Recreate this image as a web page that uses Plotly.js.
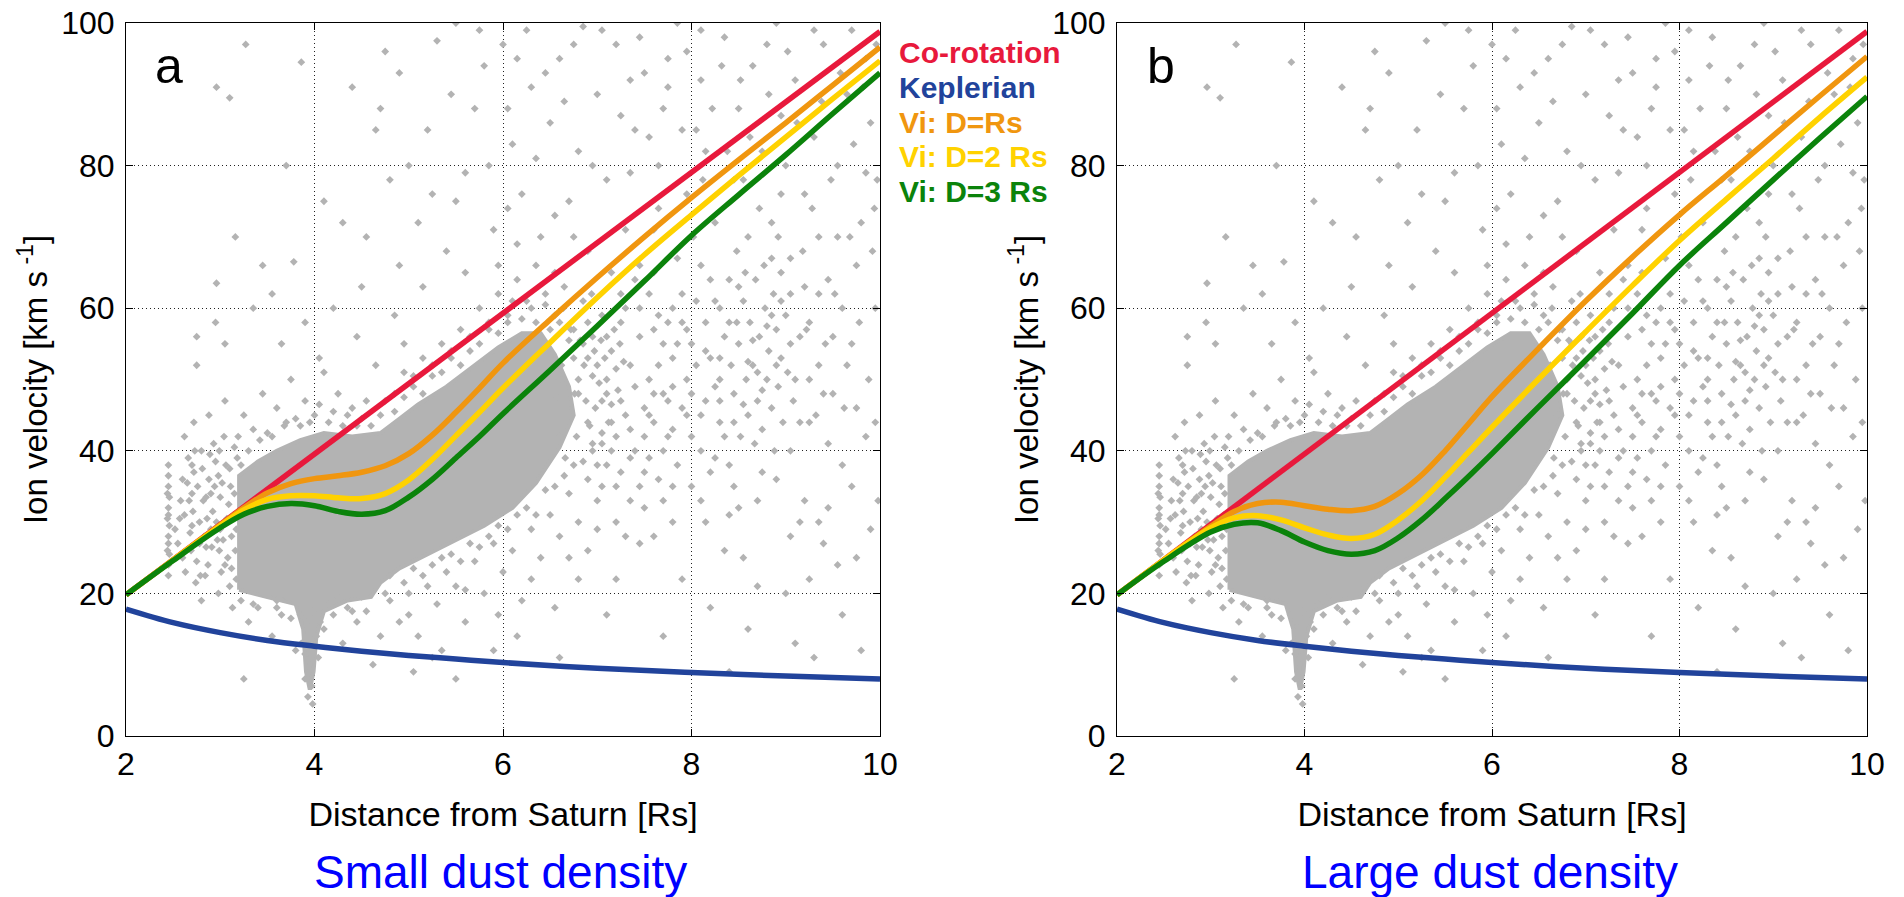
<!DOCTYPE html>
<html>
<head>
<meta charset="utf-8">
<script src="https://cdn.plot.ly/plotly-3.0.1.min.js"></script>
<style>html,body{margin:0;padding:0;background:#fff;}#chart{width:1904px;height:897px;}</style>
</head>
<body>
<div id="chart"></div>
<script>
// ---------- model curves ----------
const xModel = [2, 2.5, 3, 3.25, 3.5, 3.75, 4, 4.25, 4.5, 4.75, 5, 5.25, 5.5, 5.75, 6, 6.5, 7, 7.5, 8, 8.5, 9, 9.5, 10];

const xCorotation = [2, 10];
const vCorotation = [19.8, 98.8];

const xKeplerian = [2, 2.5, 3, 3.5, 4, 4.5, 5, 5.5, 6, 7, 8, 9, 10];
const vKeplerian = [17.8, 15.9, 14.5, 13.4, 12.6, 11.9, 11.3, 10.8, 10.3, 9.5, 8.9, 8.4, 8.0];

// panel a : small dust density
const vD1_small = [19.8, 24.7, 29.6, 32.0, 34.1, 35.4, 36.1, 36.5, 37.0, 37.9, 39.6, 42.2, 45.4, 48.8, 52.3, 58.4, 64.3, 70.0, 75.5, 80.8, 86.0, 91.3, 96.6];
const vD2_small = [19.8, 24.7, 29.5, 31.7, 33.2, 33.7, 33.7, 33.4, 33.3, 34.0, 35.9, 38.8, 42.1, 45.4, 48.8, 55.2, 61.5, 67.5, 73.1, 78.6, 84.0, 89.4, 94.7];
const vD3_small = [19.8, 24.6, 29.2, 31.1, 32.2, 32.6, 32.3, 31.5, 31.1, 31.6, 33.5, 36.0, 39.0, 42.0, 45.2, 51.3, 57.5, 63.8, 70.2, 75.9, 81.5, 87.3, 93.0];

// panel b : large dust density
const vD1_large = [19.8, 24.7, 29.4, 31.5, 32.6, 32.8, 32.3, 31.8, 31.6, 32.2, 34.0, 36.6, 40.0, 43.8, 47.6, 54.4, 61.0, 67.2, 73.1, 78.6, 84.2, 89.8, 95.3];
const vD2_large = [19.8, 24.7, 29.2, 30.6, 30.9, 30.3, 29.2, 28.2, 27.7, 28.3, 30.3, 33.0, 36.3, 39.8, 43.3, 50.1, 56.7, 63.2, 69.5, 75.3, 81.0, 86.8, 92.4];
const vD3_large = [19.8, 24.5, 28.6, 29.7, 29.9, 28.8, 27.2, 26.0, 25.5, 26.0, 27.8, 30.3, 33.3, 36.4, 39.6, 46.2, 52.7, 59.3, 66.0, 72.0, 78.0, 83.9, 89.7];

// ---------- observed ion velocities (estimated from the picture; same data in both panels) ----------
// outline of the solid, saturated part of the cloud
const obsCoreOutline = [[3.2,20.5],[3.2,36.5],[3.4,38.5],[3.6,40],[3.85,41.5],[4.1,42.5],[4.4,42],[4.7,42.5],[4.9,44.5],[5.1,46.5],[5.4,49],[5.7,52],[5.95,54.5],[6.2,56.5],[6.4,56.5],[6.55,53.5],[6.7,49],[6.75,45],[6.6,40.5],[6.35,35.5],[6.1,32],[5.8,29.5],[5.5,27.5],[5.2,25.5],[4.9,23.5],[4.7,21.5],[4.6,19.5],[4.35,19],[4.1,17.5],[4.02,14],[3.99,9],[3.95,6.5],[3.91,9],[3.88,15],[3.8,18.5],[3.5,19.5],[3.2,20.5]];

const obsColumn = [[2.45,22.5],[2.45,24],[2.46,25.5],[2.44,26],[2.45,27],[2.45,28],[2.46,29.5],[2.44,30.5],[2.45,31],[2.45,32],[2.46,33.5],[2.44,34],[2.45,35],[2.45,36.5],[2.45,38]];

const obsInner = [[2.55,27],[2.6,25],[2.62,31],[2.68,28.5],[2.7,34],[2.72,37],[2.75,24.5],[2.78,30],[2.8,40],[2.82,33],[2.85,26.5],[2.88,36],[2.9,29],[2.92,31.5],[2.95,38.5],[2.97,27.5],[3.0,33.5],[3.02,35.5],[3.05,24],[3.07,30.5],[3.1,37.5],[3.12,28],[3.15,34],[3.17,22],[3.18,39],[2.65,35.5],[2.74,21.5],[2.84,22.5],[2.93,41],[3.04,42],[2.58,33],[2.66,39],[2.98,20],[3.13,18],[2.52,29],[2.86,30.5],[2.99,26],[3.09,32.5],[3.16,26],[2.78,27],[2.7,29.5],[2.9,34],[3.0,29],
  [2.57,30.5],[2.6,36],[2.63,23],[2.67,33],[2.69,26],[2.71,31.5],[2.73,40],[2.76,35],[2.79,22.5],[2.81,37.5],[2.83,28],[2.87,24],[2.89,39.5],[2.91,26.5],[2.94,35],[2.96,30],[2.99,40],[3.01,23],[3.03,27.5],[3.06,38],[3.08,25],[3.11,35],[3.14,31],[3.17,29],[3.19,42],[2.72,44],[2.88,45],[3.05,47],[2.62,42],[2.8,19],[3.1,21],[2.7,38],[2.98,36.5],[3.15,40.5],[2.85,33.5],[3.12,23.5]];

const obsCoreEdge = [[3.25,45],[3.35,43],[3.45,48],[3.5,42.5],[3.6,46],[3.7,44],[3.75,50],[3.85,43.5],[3.9,47],[4.0,45],[4.1,51],[4.15,44],[4.25,48],[4.35,45],[4.45,43.5],[4.55,47],[4.65,52],[4.7,45],[3.3,16],[3.4,18],[3.55,14],[3.65,17],[3.75,16.5],[3.8,12],[3.9,8],[3.93,5.5],[3.97,7],[3.96,11],[4.02,14],[4.1,15],[4.2,17],[4.3,13],[4.45,16],[4.55,17.5],[4.62,10],[3.25,8],[3.6,19],[4.35,18],[3.98,4.5],[3.94,9],
  [3.22,38],[3.3,40],[3.42,41.5],[3.55,42],[3.68,43.5],[3.8,44.5],[3.95,44],[4.05,46.5],[4.2,45.5],[4.3,43.5],[4.4,46],[4.5,44.5],[4.6,43.5],[4.75,47],[4.85,45.5],[4.95,47.5],[5.05,50.5],[5.15,48],[5.25,52],[5.35,51],[5.45,54],[5.55,52],[5.65,56],[5.75,55],[5.85,58],[5.95,56.5],[6.05,58],[6.1,61],[6.2,58.5],[6.3,60],[6.35,58],[6.45,60.5],[6.5,57],[6.6,58],[6.7,55.5],[6.75,53],[6.85,55],[6.95,50.5],[7.05,47],[7.1,50],[7.15,46.5],[7.2,51.5],
  [3.22,19],[3.35,18.5],[3.45,20],[3.6,18],[3.7,19.5],[3.85,17],[4.15,18.5],[4.25,19.5],[4.4,17.5],[4.5,19.5],[4.65,21],[4.75,20],[4.8,22.5],[4.95,21.5],[5.05,23.5],[5.15,22.5],[5.25,24],[5.35,25],[5.45,25.5],[5.55,24.5],[5.65,27],[5.75,26.5],[5.85,28],[5.95,29.5],[6.05,29],[6.15,31],[6.25,32],[6.35,31],[6.45,34.5],[6.55,35],[6.65,36.5],[6.75,38],[6.85,38.5],[6.95,41],[7.05,42.5],[7.15,40],[3.92,16],[3.98,17.5],[4.06,16],[3.86,13],[4.04,11],[3.9,11.5],
  [6.62,52],[6.68,46],[6.72,57],[6.78,42],[6.8,50],[6.82,55.5],[6.88,47],[6.9,58],[6.92,43.5],[6.97,54],[7.02,49.5],[7.08,53],[7.12,44],[7.18,57],[7.22,48.5],[7.28,52.5],[6.58,47.5],[6.66,39],[6.76,48],[6.86,52],[6.98,46],[7.04,55.5],[6.64,60],[6.94,62],[7.24,55]];

const obsHighInner = [[3.05,55],[2.95,58],[2.75,52],[2.75,56],[3.27,97],[2.96,91],[3.1,89.5],[3.86,94.5],[3.16,70],[2.96,63.5],[3.45,66],[3.78,66.5],[3.35,60],[3.55,62],[3.65,55],[3.9,58],[4.05,53],[4.2,60],[4.3,72],[4.45,56],[4.5,63],[4.65,85],[4.8,78],[4.85,59],[4.9,66],[4.95,55],[4.4,91],[4.75,96],[3.7,80],[4.1,75]];

const obsMidBand = [[4.8,19],[4.9,16],[5.0,20],[5.1,14],[5.2,21],[5.3,18.5],[5.4,23],[5.5,21],[5.6,16],[5.7,24.5],[5.8,20],[5.9,27],[6.0,23],[6.1,26],[6.2,19],[6.3,29],[6.4,25],[6.5,31],[6.6,28],[6.7,34],[6.8,30],[6.9,36],[7.0,33],[7.1,38],[7.2,35],[7.3,28],[7.4,40],[7.5,37],[5.35,12],[6.15,14],[6.8,22],[5.05,9],
  [4.7,14],[5.0,17],[5.25,11],[5.6,20.5],[5.95,17],[6.3,22],[6.55,18],[6.9,26],[7.2,22],[7.45,27],[7.0,29],[6.7,25],
  [4.85,48],[4.95,51],[5.05,49],[5.15,53],[5.25,50.5],[5.35,55],[5.45,53],[5.55,57],[5.65,54],[5.75,60],[5.85,57],[5.95,62],[6.05,59],[6.15,64],[6.25,61],[6.35,66],[6.45,62],[6.55,59],[6.65,63],[6.75,57],[6.85,61],[6.95,56],[7.05,59],[7.15,54],[7.25,58],[7.35,52],[7.45,56],[7.55,50],[7.6,44],[7.7,48],[7.8,53],[7.9,46],[7.1,48],[7.3,45],[7.0,52],[6.6,50],[6.9,44],[7.2,42],[7.5,46],[7.4,49],
  [7.55,45],[7.65,52],[7.75,47],[7.85,55],[7.95,50],[8.05,61],[8.1,45],[8.2,53],[8.3,44],[8.35,56],[7.6,57],[7.8,43],[8.0,48],[8.15,58],[8.25,49],[7.05,41],[7.25,47],[7.35,39],[6.95,40],[7.15,44],
  [7.25,37],[7.35,43],[7.45,35],[7.5,42],[7.55,39],[7.6,48],[7.65,36],[7.7,55],[7.75,42],[7.8,49],[7.85,38],[7.9,62],[7.95,45],[8.0,35],[8.05,52],[8.1,40],[8.15,54],[8.2,37],[8.25,61],[8.3,47],[8.35,42],[8.4,58],[8.45,35],[8.5,63],[7.3,60],[7.4,64],[7.6,65],[7.8,60],[8.1,66],[8.4,64],[7.1,56],[7.25,62],[7.45,60],[7.65,59],[7.95,57],[8.3,53],[8.45,44],[7.05,35],[7.2,30],[7.5,32],[7.8,30],[8.1,33],[8.4,31],[6.7,45],[6.8,48],[6.6,42],[6.9,53],[7.0,38],[7.35,33],[7.7,33]];

const obsHighMid = [[5.1,72],[5.3,97.5],[5.5,100],[5.8,94],[5.2,85],[5.4,68],[5.6,79],[5.7,88],[5.9,71],[6.0,97],[6.1,83],[6.2,76],[6.3,91],[6.4,70],[6.5,86],[6.6,95],[6.7,75],[6.8,82],[6.9,68],[7.0,90],[7.1,78],[7.2,97],[7.3,71],[7.4,85],[7.5,93],[6.25,99],[6.85,99.5],[5.95,66],[6.55,73],[7.15,65],[7.45,66],[6.05,88],[5.5,75],
  [4.55,70],[4.7,88],[4.9,93],[5.0,80],[5.15,63],[5.25,76],[5.45,90],[5.6,65],[5.75,99],[5.85,80],[6.05,74],[6.15,95],[6.35,81],[6.45,93],[6.55,65],[6.65,89],[6.75,97],[6.95,80],[7.05,99],[7.25,87],[7.35,79],[7.45,98],[7.55,84],[7.65,74],[7.75,91],[7.9,85],[7.95,96],[6.15,69],[6.75,70],[7.35,92]];

const obsOuterCluster = [[8.45,48],[8.5,55],[8.52,42],[8.55,61],[8.58,50],[8.6,45],[8.62,58],[8.65,52],[8.68,64],[8.7,47],[8.72,56],[8.75,43],[8.78,60],[8.8,50],[8.82,54],[8.85,46],[8.87,62],[8.9,57],[8.92,49],[8.95,53],[8.97,44],[9.0,59],[9.02,51],[9.05,55],[9.08,47],[8.48,58],[8.57,65],[8.67,41],[8.77,66],[8.88,40],[8.6,52.5],[8.7,51],[8.8,57.5],[8.9,52],[8.55,46.5],[8.75,48.5],[8.95,61],[8.65,55.5],[8.85,59],[8.42,52]];

const obsOuter = [[7.55,62],[7.6,71],[7.65,80],[7.7,88],[7.75,95],[7.8,35],[7.85,67],[7.9,58],[7.95,76],[8.0,42],[8.05,85],[8.1,92],[8.15,30],[8.2,64],[8.25,72],[8.3,50],[8.35,98],[8.4,38],[8.45,78],[8.5,88],[8.55,25],[8.6,70],[8.65,94],[8.7,33],[8.75,82],[8.8,97],[8.85,72],[8.9,36],[8.95,87],[9.0,20],[9.05,67],[9.1,92],[9.15,44],[9.2,76],[9.25,58],[9.3,84],[9.35,30],[9.4,97],[9.45,64],[9.5,48],[9.55,80],[9.6,38],[9.65,90],[9.7,55],[9.75,25],[9.8,72],[9.85,42],[9.9,86],[9.95,60],[9.98,33],[7.6,28],[7.9,22],[8.2,18],[8.6,15],[9.1,13],[9.6,17],[9.8,12],[9.97,78],[9.92,68],[9.7,99],[9.3,99],[8.9,100],[8.1,99],[7.85,100],[9.45,41],[9.55,70],[9.65,52],[9.2,33],[9.4,27],[9.0,80],[8.3,60],[8.0,55],[7.7,40],[7.75,58],[8.15,47],[8.25,39],[9.25,50],[9.35,62],[9.75,46],[9.85,95],
  [5.9,12],[6.6,11],[7.1,17],[7.7,14],[8.4,9],[5.5,8],[9.3,11],
  [8.02,70],[8.12,78],[8.22,88],[8.32,94],[8.38,82],[8.48,68],[8.52,92],[8.62,84],[8.72,74],[8.82,90],[8.92,70],[9.02,96],[9.12,86],[9.18,68],[9.22,57],[9.28,74],[9.32,45],[9.38,89],[9.42,55],[9.48,78],[9.52,62],[9.58,93],[9.62,46],[9.68,70],[9.72,83],[9.78,58],[9.82,91],[9.88,50],[9.94,74],[9.96,97],[9.05,40],[9.15,30],[9.25,22],[9.45,32],[9.55,24],[9.7,35],[9.9,29],[9.95,44],[8.35,26],[8.7,21],[9.05,28],[8.5,32],[8.75,37],[9.1,50],[9.2,63],[9.35,52],[9.5,56],[9.6,60],[9.05,62],[9.15,56],[8.95,65],[8.85,67],[9.25,44],[9.4,48],[8.15,82],[8.55,78],[8.95,76],[9.35,70],[9.75,66],[9.85,79]];

// ---------- labels ----------
const legendLabels = ['Co-rotation', 'Keplerian', 'Vi: D=Rs', 'Vi: D=2 Rs', 'Vi: D=3 Rs'];
const panelLetters = ['a', 'b'];
const panelCaptions = ['Small dust density', 'Large dust density'];
const xTitle = 'Distance from Saturn [Rs]';
const yTitle = 'Ion velocity [km s<sup> -1</sup>]';
const xTicks = [2, 4, 6, 8, 10];
const yTicks = [0, 20, 40, 60, 80, 100];

// ---------- styling ----------
const C = {red: '#e8193c', blue: '#21439b', orange: '#f0960f', yellow: '#ffd200', green: '#0b830b', grey: '#b3b3b3'};
const FONT = 'Liberation Sans, Arial, Helvetica, sans-serif';

const obsAll = [].concat(obsColumn, obsInner, obsCoreEdge, obsHighInner, obsMidBand, obsHighMid, obsOuterCluster, obsOuter);
const obsX = obsAll.map(p => p[0]);
const obsY = obsAll.map(p => p[1]);

function panelTraces(xa, ya, d1, d2, d3) {
  return [
    {x: obsCoreOutline.map(p => p[0]), y: obsCoreOutline.map(p => p[1]), xaxis: xa, yaxis: ya, type: 'scatter', mode: 'lines',
     fill: 'toself', fillcolor: C.grey, line: {width: 4, color: C.grey}, hoverinfo: 'skip'},
    {x: obsX, y: obsY, xaxis: xa, yaxis: ya, type: 'scatter', mode: 'markers',
     marker: {symbol: 'diamond', size: 6, color: C.grey, line: {width: 0}}},
    {x: xCorotation, y: vCorotation, xaxis: xa, yaxis: ya, mode: 'lines', line: {color: C.red, width: 5.5}},
    {x: xKeplerian, y: vKeplerian, xaxis: xa, yaxis: ya, mode: 'lines', line: {color: C.blue, width: 5.5, shape: 'spline'}},
    {x: xModel, y: d1, xaxis: xa, yaxis: ya, mode: 'lines', line: {color: C.orange, width: 5.5, shape: 'spline', smoothing: 1}},
    {x: xModel, y: d2, xaxis: xa, yaxis: ya, mode: 'lines', line: {color: C.yellow, width: 5.5, shape: 'spline', smoothing: 1}},
    {x: xModel, y: d3, xaxis: xa, yaxis: ya, mode: 'lines', line: {color: C.green, width: 5.5, shape: 'spline', smoothing: 1}}
  ];
}

const data = [].concat(
  panelTraces('x', 'y', vD1_small, vD2_small, vD3_small),
  panelTraces('x2', 'y2', vD1_large, vD2_large, vD3_large)
);

const W = 1904, H = 897;
const px = v => v / W;
const py = v => 1 - v / H;

function xAxis(domain, anchor) {
  return {domain: domain, anchor: anchor, range: [2, 10], tickvals: xTicks, ticks: 'inside', ticklen: 7, tickcolor: '#000',
    showline: true, linecolor: '#000', linewidth: 1, mirror: 'ticks', showgrid: true, gridcolor: '#222', griddash: '1px,3px', gridwidth: 1,
    zeroline: false, tickfont: {family: FONT, size: 32, color: '#000'},
    title: {text: xTitle, font: {family: FONT, size: 34, color: '#000'}, standoff: 20}};
}
function yAxis(domain, anchor) {
  return {domain: domain, anchor: anchor, range: [0, 100], tickvals: yTicks, ticks: 'inside', ticklen: 7, tickcolor: '#000',
    showline: true, linecolor: '#000', linewidth: 1, mirror: 'ticks', showgrid: true, gridcolor: '#222', griddash: '1px,3px', gridwidth: 1,
    zeroline: false, tickfont: {family: FONT, size: 32, color: '#000'}, ticklabelstandoff: 4,
    title: {text: yTitle, font: {family: FONT, size: 33, color: '#000'}, standoff: 3}};
}

const yDom = [py(736), py(23)];
const legendColors = [C.red, C.blue, C.orange, C.yellow, C.green];
const legendY = [52, 87, 122, 157, 192];

const annotations = [];
legendLabels.forEach((t, i) => annotations.push({xref: 'paper', yref: 'paper', x: px(897), y: py(legendY[i]), xanchor: 'left', yanchor: 'middle',
  text: '<b>' + t + '</b>', showarrow: false, font: {family: FONT, size: 30, color: legendColors[i]}}));
[[169, 'a'], [1161, 'b']].forEach((p, i) => annotations.push({xref: 'paper', yref: 'paper', x: px(p[0]), y: py(66), xanchor: 'center', yanchor: 'middle',
  text: panelLetters[i], showarrow: false, font: {family: FONT, size: 50, color: '#000'}}));
[[500, 0], [1490, 1]].forEach(p => annotations.push({xref: 'paper', yref: 'paper', x: px(p[0]), y: py(872), xanchor: 'center', yanchor: 'middle',
  text: panelCaptions[p[1]], showarrow: false, font: {family: FONT, size: 46, color: '#0000ff'}}));

const layout = {
  width: W, height: H, margin: {l: 0, r: 0, t: 0, b: 0},
  paper_bgcolor: '#fff', plot_bgcolor: '#fff', showlegend: false,
  xaxis: xAxis([px(126), px(880)], 'y'),
  yaxis: yAxis(yDom, 'x'),
  xaxis2: xAxis([px(1117), px(1867)], 'y2'),
  yaxis2: yAxis(yDom, 'x2'),
  annotations: annotations
};

Plotly.newPlot('chart', data, layout, {displayModeBar: false, staticPlot: true});
</script>
</body>
</html>
